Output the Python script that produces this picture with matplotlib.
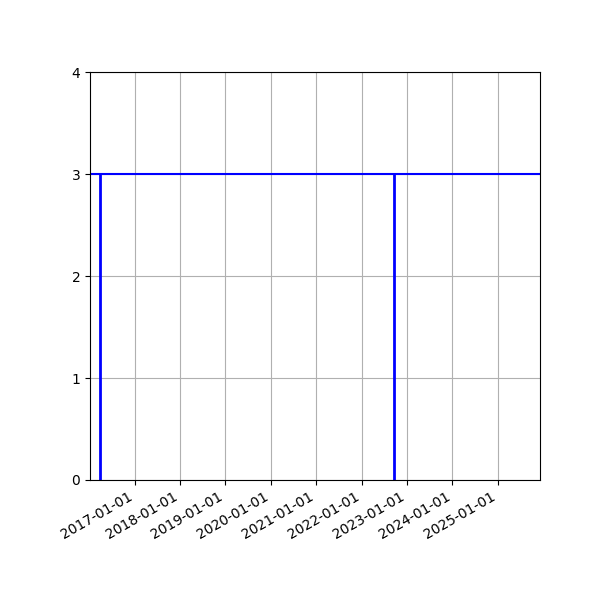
import numpy as np
import matplotlib
matplotlib.use("Agg")
from matplotlib import pyplot as plt
import matplotlib.dates as mdates

# event dates (vertical markers) and the constant level
event_dates = np.array(["2016-03-27", "2022-09-18"], dtype="datetime64[D]")
level = 3
tick_years = list(range(2017, 2026))
x_start = np.datetime64("2016-01-08")
x_end = np.datetime64("2025-12-05")

fig, ax = plt.subplots(figsize=(6, 6), dpi=100)
fig.subplots_adjust(left=0.15, right=0.9, top=0.88)

ax.axhline(level, color='b', lw=1.5)
ax.vlines(event_dates.astype("datetime64[ms]").astype(object), 0, level, colors='b', lw=2)

ax.set_xlim(x_start.astype(object), x_end.astype(object))
ax.set_ylim(0, 4)
ax.set_yticks(range(0, 5))
ax.set_xticks([np.datetime64(f"{y}-01-01").astype(object) for y in tick_years])
ax.xaxis.set_major_formatter(mdates.DateFormatter('%Y-%m-%d'))
ax.grid(True)
ax.set_axisbelow(True)
fig.autofmt_xdate()

fig.savefig("out.png")
